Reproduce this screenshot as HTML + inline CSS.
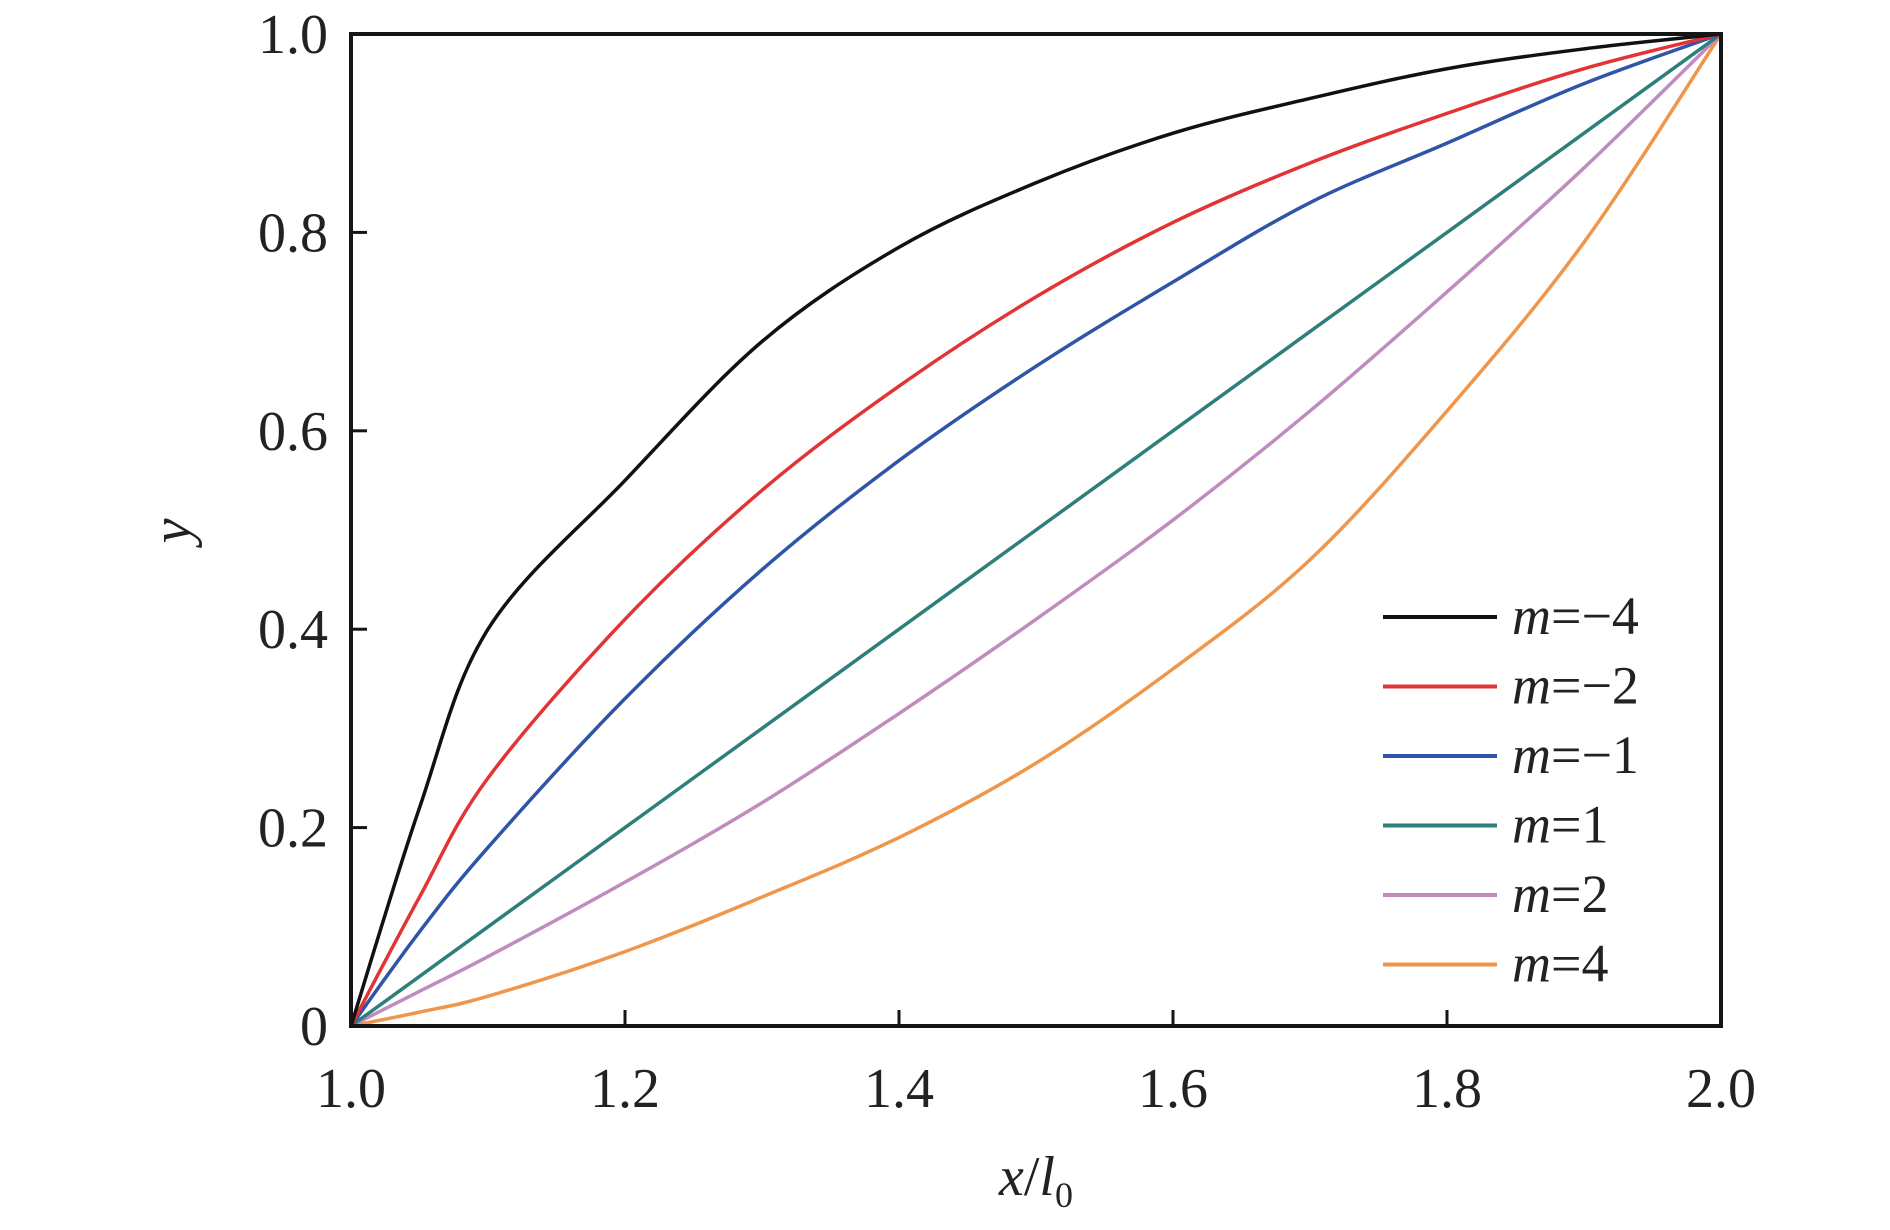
<!DOCTYPE html>
<html><head><meta charset="utf-8"><style>
html,body{margin:0;padding:0;background:#fff}
svg{display:block}
text{font-family:"Liberation Serif",serif;fill:#222}
</style></head><body>
<svg id="chart" width="1890" height="1230" viewBox="0 0 1890 1230" xmlns="http://www.w3.org/2000/svg">
<g id="series"></g>
<rect x="351" y="34" width="1370" height="992" fill="none" stroke="#151515" stroke-width="4"/>
<g id="axes"></g>
<text transform="translate(190,531) rotate(-90)" font-size="56" font-style="italic" text-anchor="middle">y</text>
<text x="1036" y="1195" font-size="56" text-anchor="middle"><tspan font-style="italic">x</tspan>/<tspan font-style="italic">l</tspan><tspan font-size="36" dy="12">0</tspan></text>
<g id="legend"></g>
</svg>
<script>
const xs = [1.0,1.05,1.1,1.2,1.3,1.4,1.5,1.6,1.7,1.8,1.9,2.0];
const seriesNames = ["m=−4","m=−2","m=−1","m=1","m=2","m=4"];
const yM4n = [0,0.22,0.40,0.55,0.69,0.785,0.85,0.90,0.935,0.965,0.985,1];
const yM2n = [0,0.13,0.25,0.41,0.54,0.645,0.735,0.81,0.87,0.92,0.965,1];
const yM1n = [0,0.095,0.18,0.33,0.46,0.57,0.665,0.75,0.83,0.89,0.95,1];
const yP1 = [0,0.05,0.10,0.20,0.30,0.40,0.50,0.60,0.70,0.80,0.90,1];
const yP2 = [0,0.035,0.07,0.145,0.225,0.315,0.41,0.51,0.62,0.74,0.865,1];
const yP4 = [0,0.014,0.03,0.075,0.13,0.19,0.265,0.36,0.47,0.62,0.79,1];
const xTicks = [1.0,1.2,1.4,1.6,1.8,2.0];
const xTickLabels = ["1.0","1.2","1.4","1.6","1.8","2.0"];
const yTicks = [0,0.2,0.4,0.6,0.8,1.0];
const yTickLabels = ["0","0.2","0.4","0.6","0.8","1.0"];
const colors = ["#111111","#e23434","#2f55a8","#2e7f7a","#c08cc0","#f0964a"];
const allY = [yM4n,yM2n,yM1n,yP1,yP2,yP4];

const X = v => 351 + (v-1.0)/1.0*1370;
const Y = v => 1026 - v*992;
const NS = "http://www.w3.org/2000/svg";
function mk(tag, attrs){const e=document.createElementNS(NS,tag);for(const k in attrs)e.setAttribute(k,attrs[k]);return e;}

function smoothPath(px, py){
  let d = "M"+px[0].toFixed(2)+","+py[0].toFixed(2);
  for(let i=0;i<px.length-1;i++){
    const p0x=px[Math.max(i-1,0)],p0y=py[Math.max(i-1,0)];
    const p3x=px[Math.min(i+2,px.length-1)],p3y=py[Math.min(i+2,px.length-1)];
    const c1x=px[i]+(px[i+1]-p0x)/6, c1y=py[i]+(py[i+1]-p0y)/6;
    const c2x=px[i+1]-(p3x-px[i])/6, c2y=py[i+1]-(p3y-py[i])/6;
    d+=" C"+c1x.toFixed(2)+","+c1y.toFixed(2)+" "+c2x.toFixed(2)+","+c2y.toFixed(2)+" "+px[i+1].toFixed(2)+","+py[i+1].toFixed(2);
  }
  return d;
}

const sg = document.getElementById("series");
const order = [5,4,3,2,1,0];
order.forEach(s=>{
  const p = mk("path",{d:smoothPath(xs.map(X),allY[s].map(Y)),fill:"none",stroke:colors[s],"stroke-width":3.5,"stroke-linejoin":"round"});
  
  
  sg.appendChild(p);
});

const ag = document.getElementById("axes");
xTicks.forEach((t,i)=>{
  const l = mk("line",{x1:X(t),x2:X(t),y1:1026,y2:1010,stroke:"#151515","stroke-width":3});
  
  
  ag.appendChild(l);
  const tx = mk("text",{x:X(t),y:1107,"font-size":56,"text-anchor":"middle"});
  tx.textContent = xTickLabels[i];
  
  
  ag.appendChild(tx);
});
yTicks.forEach((t,i)=>{
  const l = mk("line",{x1:351,x2:367,y1:Y(t),y2:Y(t),stroke:"#151515","stroke-width":3});
  
  
  ag.appendChild(l);
  const tx = mk("text",{x:328,y:Y(t)+19,"font-size":56,"text-anchor":"end"});
  tx.textContent = yTickLabels[i];
  
  
  ag.appendChild(tx);
});

const lg = document.getElementById("legend");
seriesNames.forEach((n,i)=>{
  const yy = 617 + i*69.5;
  const g = mk("g",{});
  
  
  const l = mk("line",{x1:1383,x2:1497,y1:yy,y2:yy,stroke:colors[i],"stroke-width":4});
  
  
  g.appendChild(l);
  const tx = mk("text",{x:1512,y:yy+17,"font-size":54});
  const it = mk("tspan",{"font-style":"italic"}); it.textContent = "m";
  tx.appendChild(it);
  tx.appendChild(document.createTextNode(n.slice(1)));
  
  
  g.appendChild(tx);
  lg.appendChild(g);
});
</script>
</body></html>
